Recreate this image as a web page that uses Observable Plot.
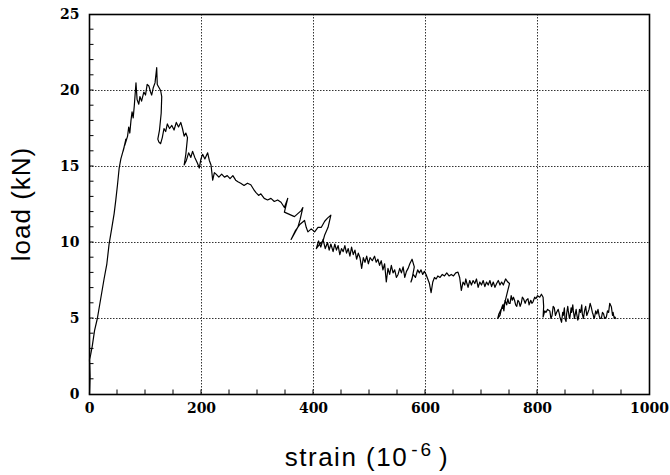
<!DOCTYPE html>
<html>
<head>
<meta charset="utf-8">
<script src="https://cdn.jsdelivr.net/npm/d3@7"></script>
<script src="https://cdn.jsdelivr.net/npm/@observablehq/plot@0.6"></script>
<style>
  html, body { margin: 0; padding: 0; background: #fff; }
</style>
</head>
<body>
<div id="chart"></div>
<script>
const strain = [
  0, 1, 0, 2, 5, 9, 14, 20, 26, 31,
  35, 40, 44, 47, 50, 53, 56, 59, 62, 60,
  65, 63, 68, 70, 72, 74, 76, 78, 80, 83,
  85, 88, 90, 93, 97, 100, 103, 106, 109, 111,
  114, 117, 120, 121, 124, 127, 129, 128, 125, 122,
  124, 127, 130, 133, 136, 139, 143, 147, 151, 155,
  159, 163, 166, 169, 172, 175, 172, 169, 173, 177,
  181, 184, 188, 193, 196, 199, 202, 206, 211, 214,
  217, 220, 223, 226, 231, 236, 241, 246, 251, 256,
  261, 265, 270, 276, 282, 288, 293, 297, 302, 306,
  312, 318, 324, 330, 336, 342, 348, 351, 354, 350,
  348, 354, 360, 366, 372, 378, 381, 376, 372, 366,
  360, 368, 376, 384, 387, 390, 396, 402, 408, 414,
  420, 425, 431, 426, 420, 417, 411, 405, 409, 413,
  417, 421, 425, 428, 431, 435, 438, 441, 444, 447,
  450, 453, 456, 459, 462, 465, 468, 471, 474, 477,
  480, 483, 486, 489, 492, 495, 498, 501, 505, 509,
  512, 515, 518, 521, 524, 527, 530, 533, 536, 539,
  542, 545, 548, 551, 554, 557, 560, 563, 566, 569,
  572, 576, 580, 576, 574, 578, 582, 586, 589, 592,
  595, 598, 601, 604, 607, 610, 613, 616, 619, 622,
  626, 630, 634, 638, 642, 646, 650, 654, 658, 661,
  664, 667, 670, 672, 674, 676, 679, 682, 685, 688,
  691, 694, 697, 700, 703, 706, 709, 712, 715, 718,
  721, 724, 727, 730, 733, 736, 739, 743, 747, 750,
  746, 742, 738, 735, 731, 729, 733, 736, 738, 740,
  742, 745, 747, 749, 751, 753, 755, 757, 759, 761,
  763, 765, 767, 769, 771, 773, 775, 778, 780, 783,
  785, 788, 790, 792, 795, 797, 800, 804, 807, 810,
  811, 810, 813, 815, 818, 822, 824, 826, 828, 830,
  832, 834, 837, 839, 840, 843, 845, 846, 848, 849,
  851, 852, 854, 855, 857, 858, 860, 861, 863, 864,
  866, 867, 869, 870, 872, 873, 875, 877, 879, 880,
  882, 884, 886, 888, 890, 892, 894, 896, 898, 899,
  901, 902, 904, 906, 908, 910, 912, 914, 916, 918,
  920, 923, 925, 927, 929, 932, 934, 935, 937, 938,
  940
];
const load = [
  0, 1.2, 2.3, 2.6, 3.2, 4.2, 5.0, 6.3, 7.6, 8.6,
  9.9, 11.0, 11.9, 12.8, 13.8, 14.9, 15.5, 15.9, 16.3, 16.0,
  16.8, 16.4, 17.0, 17.6, 17.2, 18.0, 18.6, 18.2, 19.0, 20.5,
  19.4, 19.1, 19.6, 19.3, 19.9, 19.7, 20.4, 20.3, 19.9, 19.7,
  20.2, 20.5, 21.5, 20.4, 20.2, 20.0, 19.6, 18.5, 17.4, 16.8,
  16.6, 16.5, 16.9, 17.5, 17.3, 17.8, 17.5, 17.7, 17.4, 17.9,
  17.6, 17.9, 17.5, 17.0, 17.2, 16.9, 15.8, 15.1, 15.4, 15.9,
  15.6, 16.0, 15.6, 15.2, 14.9, 15.5, 15.8, 15.5, 15.9, 15.4,
  15.1, 14.1, 14.6, 14.5, 14.3, 14.5, 14.3, 14.4, 14.2, 14.4,
  14.1, 14.0, 13.9, 13.75, 13.9, 13.8, 13.5, 13.3, 13.1, 13.2,
  12.9, 12.8, 12.9, 12.7, 12.8, 12.65, 12.3, 12.6, 12.9, 12.3,
  12.0, 11.9, 11.8, 11.7, 11.9, 12.1, 12.3, 11.5, 11.0, 10.6,
  10.2, 10.8, 11.2, 11.45, 11.0, 10.7, 10.9, 10.7, 11.0, 11.0,
  11.4, 11.6, 11.8, 11.0, 10.5, 10.1, 9.9, 9.6, 10.1, 9.7,
  10.2, 9.6, 10.0, 9.5, 9.9, 9.4, 9.9, 9.5, 9.8, 9.2,
  9.6, 9.4, 9.8, 9.3, 9.6, 9.1, 9.7, 9.2, 9.5, 8.9,
  9.3, 9.0, 8.3, 9.0, 8.7, 9.1, 8.6, 9.0, 8.8, 9.1,
  8.7, 8.9, 8.5, 8.8, 8.2, 8.6, 7.4, 8.3, 7.9, 8.5,
  8.0, 8.2, 7.7, 7.9, 8.3, 8.0, 8.4, 7.7, 8.1, 8.3,
  8.6, 8.9, 8.4, 7.6, 7.4, 7.9, 7.7, 8.2, 8.0, 8.2,
  7.9, 8.1, 7.9, 7.6, 7.3, 6.7, 7.4, 7.7, 7.6, 7.8,
  7.7, 7.9, 7.8, 8.0, 7.8, 7.9, 7.8, 8.0, 8.05, 7.7,
  6.85, 7.4, 7.2, 7.6, 7.3, 7.05, 7.5, 7.2, 7.5, 7.3,
  7.6, 7.05, 7.4, 7.2, 7.5, 7.1, 7.4, 7.2, 7.5, 7.1,
  7.4, 7.05, 7.3, 7.5, 7.2, 7.4, 7.2, 7.6, 7.4, 7.3,
  6.7, 6.1, 5.7, 5.6, 5.3, 5.0, 5.2, 5.7, 5.9, 5.5,
  6.2, 5.9, 6.3, 6.0, 6.0, 6.5, 6.2, 6.4, 6.2, 5.9,
  5.8, 6.2, 6.1, 5.8, 6.0, 6.4, 6.3, 6.0, 6.2, 6.3,
  5.9, 6.2, 6.0, 6.1, 6.4, 6.3, 6.5, 6.4, 6.6, 6.4,
  5.8, 5.1, 5.5, 5.4, 5.6, 5.5, 5.0, 5.2, 5.8, 5.7,
  5.2, 5.4, 5.6, 5.3, 5.1, 4.75, 5.4, 5.2, 5.7, 5.0,
  4.8, 5.3, 5.8, 5.5, 5.0, 5.1, 5.7, 5.4, 5.9, 5.5,
  5.0, 5.2, 5.6, 5.3, 4.9, 5.0, 5.6, 5.4, 5.9, 5.3,
  5.0, 5.5, 5.8, 5.2, 5.4, 5.6, 6.0, 5.75, 5.4, 5.3,
  5.0, 5.1, 5.5, 5.3, 5.6, 5.2, 5.0, 5.0, 5.4, 5.3,
  5.0, 5.1, 5.5, 5.4, 6.0, 5.75, 5.2, 5.4, 5.0, 5.1,
  5.0
];
const xTicks = [0, 200, 400, 600, 800, 1000];
const yTicks = [0, 5, 10, 15, 20, 25];
const xGrid = [200, 400, 600, 800];
const yGrid = [5, 10, 15, 20];
const xMinor = d3.range(50, 1000, 50);
const yMinor = d3.range(1, 25, 1);

const data = strain.map((x, i) => ({x, y: load[i]}));

const W = 670, H = 475, mL = 89, mR = 21, mT = 14, mB = 81;
const innerW = W - mL - mR, innerH = H - mT - mB;
const tickFont = "'DejaVu Serif', serif";

const chart = Plot.plot({
  width: W,
  height: H,
  marginLeft: mL,
  marginRight: mR,
  marginTop: mT,
  marginBottom: mB,
  x: {domain: [0, 1000]},
  y: {domain: [0, 25]},
  style: {fontFamily: tickFont, fontSize: "14px", fontWeight: "bold", color: "black", background: "white", overflow: "visible"},
  marks: [
    Plot.ruleX(xGrid, {x: d => d, stroke: "#333", strokeWidth: 1, strokeDasharray: "1.5,1.5"}),
    Plot.ruleY(yGrid, {y: d => d, stroke: "#333", strokeWidth: 1, strokeDasharray: "1.5,1.5"}),
    Plot.line(data, {x: "x", y: "y", stroke: "black", strokeWidth: 1.2, strokeLinejoin: "round"}),
    Plot.frame({stroke: "black", strokeWidth: 1.6}),
    Plot.axisX({ticks: xTicks, tickSize: 0, tickPadding: 9, tickFormat: d3.format("d"), label: null, fontSize: 14, fontWeight: "bold"}),
    Plot.axisY({ticks: yTicks, tickSize: 0, tickPadding: 10, tickFormat: d3.format("d"), label: null, fontSize: 14, fontWeight: "bold"})
  ]
});
document.getElementById("chart").appendChild(chart);

const sx = chart.scale("x"), sy = chart.scale("y");
const svg = d3.select(chart);
const minor = svg.append("g").attr("stroke", "black").attr("stroke-width", 1);
minor.selectAll("line.mx").data(xMinor).join("line")
  .attr("x1", d => sx.apply(d)).attr("x2", d => sx.apply(d))
  .attr("y1", sy.apply(0)).attr("y2", sy.apply(0) - 4.5);
minor.selectAll("line.my").data(yMinor).join("line")
  .attr("y1", d => sy.apply(d)).attr("y2", d => sy.apply(d))
  .attr("x1", sx.apply(0)).attr("x2", sx.apply(0) + 4.5);

const xl = svg.append("text")
  .attr("x", mL + innerW / 2 - 2)
  .attr("y", 466)
  .attr("text-anchor", "middle")
  .style("font-family", "'Liberation Sans', Arial, sans-serif")
  .style("font-size", "26px")
  .style("font-weight", "normal")
  .style("letter-spacing", "1.5px")
  .attr("fill", "black");
xl.append("tspan").text("strain (10");
xl.append("tspan").attr("dy", -10).attr("dx", 3).style("font-size", "19px").style("letter-spacing", "3px").text("-6");
xl.append("tspan").attr("dy", 10).attr("dx", 5).text(")");

svg.append("text")
  .attr("transform", `translate(30,${mT + innerH / 2}) rotate(-90)`)
  .attr("text-anchor", "middle")
  .style("font-family", "'Liberation Sans', Arial, sans-serif")
  .style("font-size", "26px")
  .style("font-weight", "normal")
  .style("letter-spacing", "1px")
  .attr("fill", "black")
  .text("load (kN)");
</script>
</body>
</html>
